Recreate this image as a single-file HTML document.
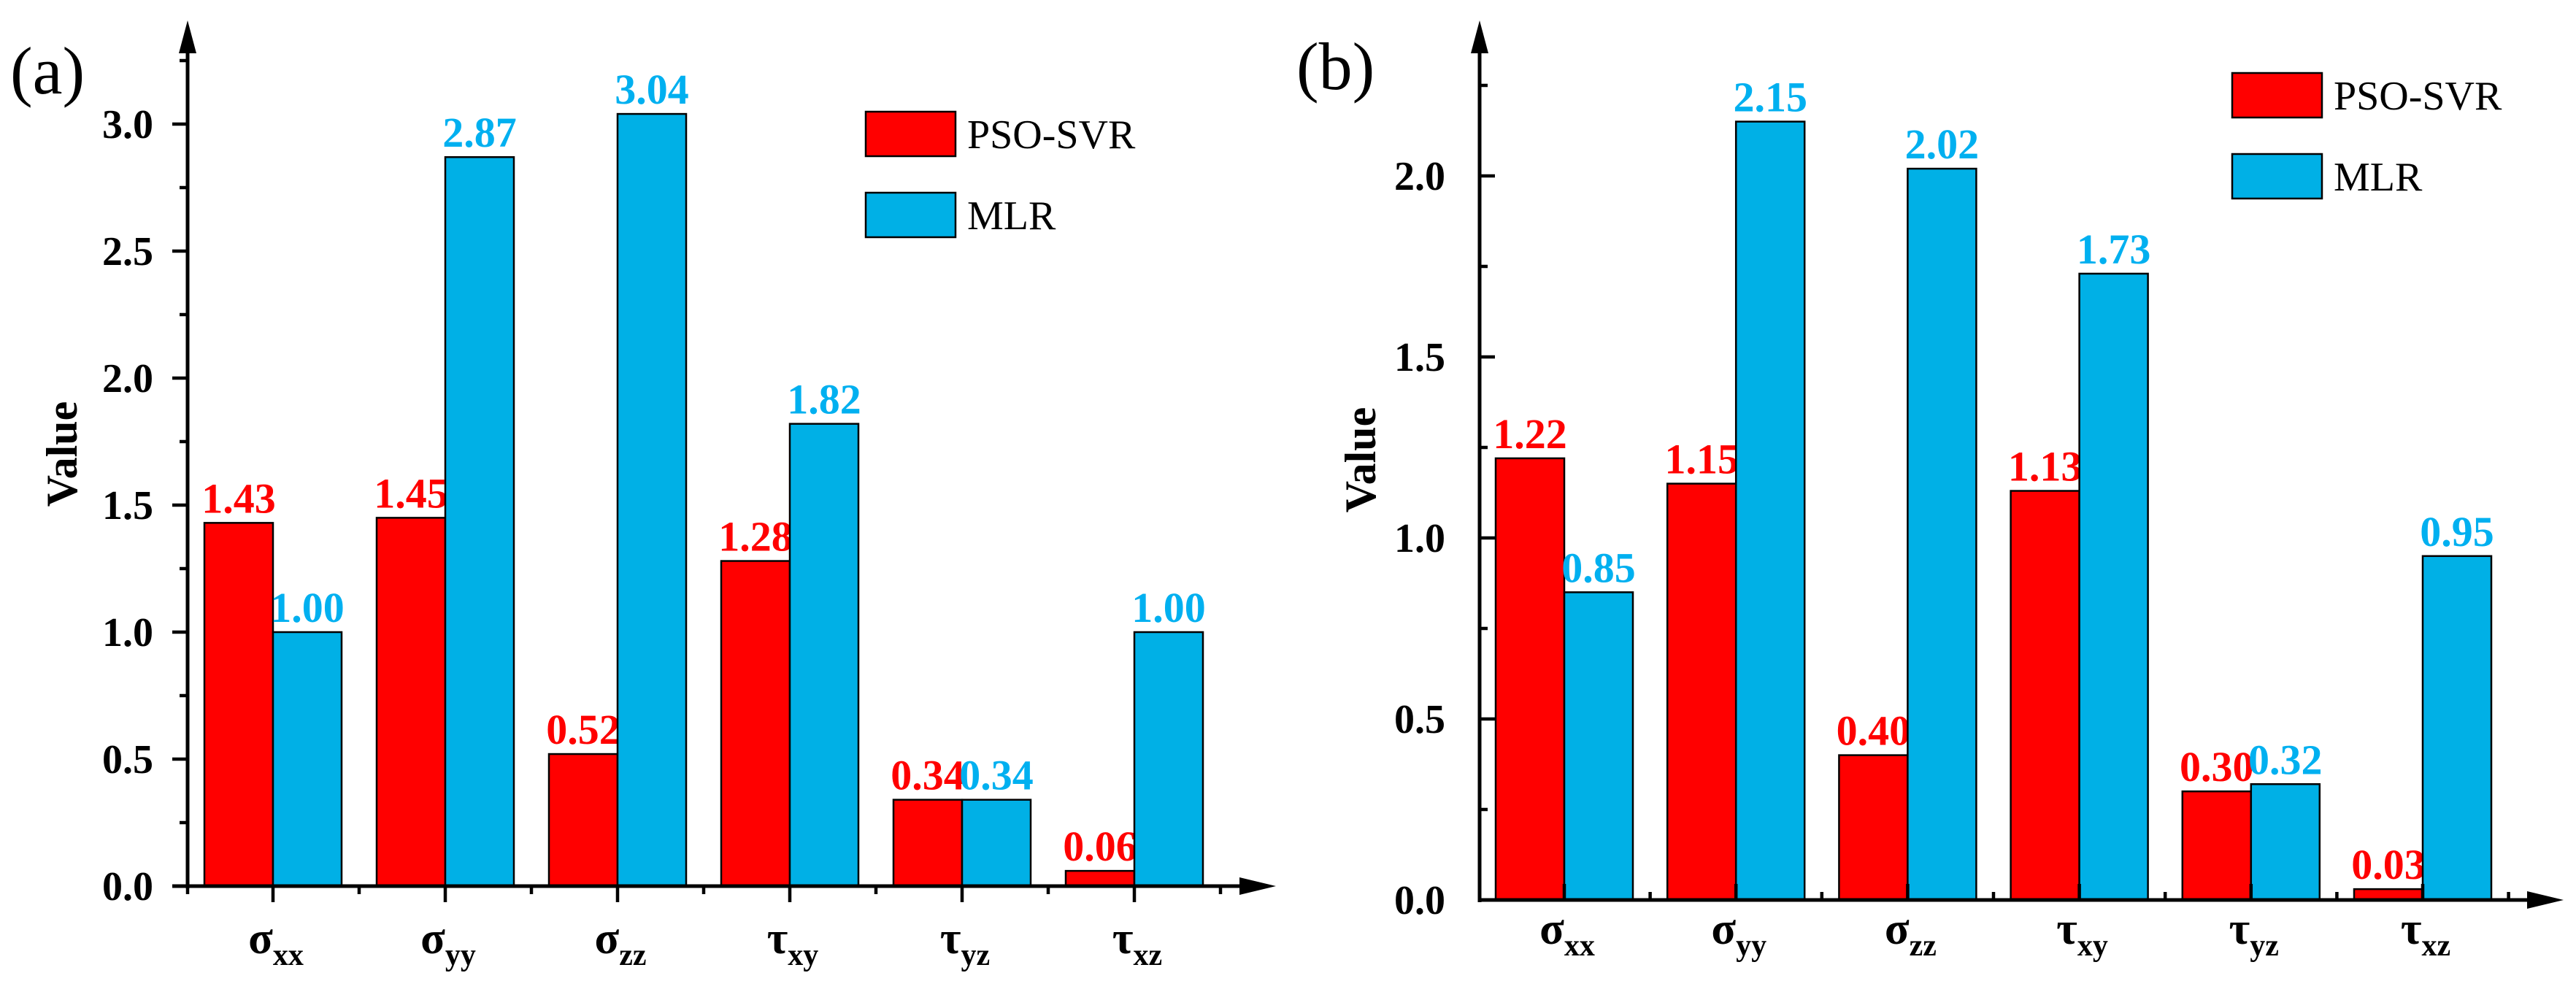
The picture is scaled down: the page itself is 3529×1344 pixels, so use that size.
<!DOCTYPE html>
<html><head><meta charset="utf-8"><style>
html,body{margin:0;padding:0;background:#fff;}
svg{display:block;}
text{font-family:"Liberation Serif","Times New Roman",serif;}
</style></head><body>
<svg id="chart" width="3529" height="1344" viewBox="0 0 3529 1344" xmlns="http://www.w3.org/2000/svg"></svg>
<script>
const categories = ["σ|xx","σ|yy","σ|zz","τ|xy","τ|yz","τ|xz"];
const seriesNames = ["PSO-SVR","MLR"];
const psoA = [1.43,1.45,0.52,1.28,0.34,0.06];
const mlrA = [1.00,2.87,3.04,1.82,0.34,1.00];
const psoB = [1.22,1.15,0.40,1.13,0.30,0.03];
const mlrB = [0.85,2.15,2.02,1.73,0.32,0.95];
const ticksA = [0,0.5,1.0,1.5,2.0,2.5,3.0];
const ticksB = [0,0.5,1.0,1.5,2.0];
const RED="#FF0000", BLUE="#00B0E6", BLUET="#00B0F0";
const NS="http://www.w3.org/2000/svg";
const svg=document.getElementById('chart');
function el(tag,attrs,parent,txt){const e=document.createElementNS(NS,tag);for(const k in attrs)e.setAttribute(k,attrs[k]);if(txt!==undefined)e.textContent=txt;(parent||svg).appendChild(e);return e;}

function panel(cfg){
  const g=el('g',{});
  
  
  const y=v=>cfg.zeroY - v*cfg.scale;
  const x=i=>cfg.c0 + i*cfg.step;
  // bars
  for(let i=0;i<categories.length;i++){
    [[cfg.pso,RED,RED,-1,'pso-svr'],[cfg.mlr,BLUE,BLUET,0,'mlr']].forEach(s=>{
      const v=s[0][i];
      const bx=x(i)+s[3]*cfg.bw;
      const r=el('rect',{x:bx,y:y(v),width:cfg.bw,height:cfg.zeroY-y(v),fill:s[1],stroke:'#000','stroke-width':2.5},g);
      
      
      const t=el('text',{x:bx+cfg.bw/2,y:y(v)-14,'text-anchor':'middle','font-size':58,'font-weight':'bold',fill:s[2]},g,v.toFixed(2));
      
      
    });
  }
  // y axis
  const ax=el('line',{x1:cfg.axX,y1:cfg.zeroY+3,x2:cfg.axX,y2:cfg.topY+40,stroke:'#000','stroke-width':5},g);
  
  
  el('polygon',{points:`${cfg.axX-12},${cfg.topY+45} ${cfg.axX},${cfg.topY} ${cfg.axX+12},${cfg.topY+45}`,fill:'#000'},g);
  const dir=cfg.inside?1:-1;
  for(let v=0;v<=cfg.maxTick+0.001;v+=0.25){
    const major=Math.abs(v*2-Math.round(v*2))<0.01;
    el('line',{x1:cfg.axX,y1:y(v),x2:cfg.axX+dir*(major?21:11),y2:y(v),stroke:'#000','stroke-width':4.5},g);
  }
  cfg.ticks.forEach(v=>{
    const t=el('text',{x:cfg.axX-47,y:y(v)+19,'text-anchor':'end','font-size':56,'font-weight':'bold'},g,v.toFixed(1));
    
    
  });
  // x axis
  const xa=el('line',{x1:cfg.inside?cfg.axX-2:cfg.axX-21,y1:cfg.zeroY,x2:cfg.arrowX-40,y2:cfg.zeroY,stroke:'#000','stroke-width':5},g);
  
  
  el('polygon',{points:`${cfg.arrowX-50},${cfg.zeroY-12} ${cfg.arrowX},${cfg.zeroY} ${cfg.arrowX-50},${cfg.zeroY+12}`,fill:'#000'},g);
  const xd=cfg.inside?-1:1;
  for(let i=0;i<categories.length;i++){
    el('line',{x1:x(i),y1:cfg.zeroY,x2:x(i),y2:cfg.zeroY+xd*22,stroke:'#000','stroke-width':4.5},g);
    el('line',{x1:x(i)+cfg.step/2,y1:cfg.zeroY,x2:x(i)+cfg.step/2,y2:cfg.zeroY+xd*11,stroke:'#000','stroke-width':4.5},g);
    if(!cfg.inside && i===0) el('line',{x1:cfg.axX,y1:cfg.zeroY,x2:cfg.axX,y2:cfg.zeroY+11,stroke:'#000','stroke-width':4.5},g);
    const p=categories[i].split('|');
    const t=el('text',{x:x(i)+4,y:cfg.labY,'text-anchor':'middle','font-size':62,'font-weight':'bold'},g);
    
    
    el('tspan',{},t,p[0]);
    el('tspan',{dy:16,'font-size':42},t,p[1]);
  }
  // y title
  const yt=el('text',{x:0,y:0,transform:`translate(${cfg.titleX},${cfg.titleY}) rotate(-90)`,'text-anchor':'middle','font-size':60,'font-weight':'bold'},g,'Value');
  
  
  // panel letter
  const pl=el('text',{x:cfg.letterX,y:cfg.letterY,'font-size':92},g,cfg.letter);
  
  
  // legend
  const lg=el('g',{},g);
  
  
  [[RED,0],[BLUE,1]].forEach(s=>{
    const by=cfg.legY+s[1]*111;
    const r=el('rect',{x:cfg.legX,y:by,width:123,height:61,fill:s[0],stroke:'#000','stroke-width':2.5},lg);
    
    
    const t=el('text',{x:cfg.legX+139,y:by+50,'font-size':56},lg,seriesNames[s[1]]);
    
    
  });
}
panel({id:'panel-a',pso:psoA,mlr:mlrA,ticks:ticksA,maxTick:3.25,zeroY:1214,scale:348,axX:257,topY:28,
  c0:374,step:236,bw:94,arrowX:1748,inside:false,labY:1306,titleX:105,titleY:622,letter:'(a)',letterX:14,letterY:128,legX:1186,legY:153});
panel({id:'panel-b',pso:psoB,mlr:mlrB,ticks:ticksB,maxTick:2.25,zeroY:1233,scale:496,axX:2027,topY:28,
  c0:2143,step:235.2,bw:94,arrowX:3512,inside:true,labY:1293,titleX:1884,titleY:630,letter:'(b)',letterX:1776,letterY:122,legX:3058,legY:100});
</script>
</body></html>
